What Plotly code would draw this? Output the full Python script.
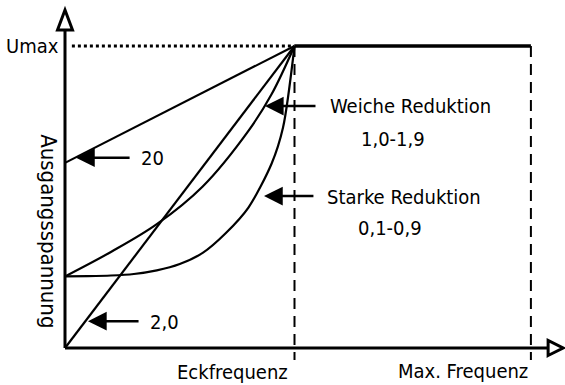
import plotly.graph_objects as go

# ---------------- data (normalised: Eckfrequenz = 1, Umax = 1) ----------------
CORNER_FREQ = 1.0
MAX_FREQ = 2.03
UMAX = 1.0

line20_x = [0.0, 1.0]
line20_y = [0.613, 1.0]

line2_x = [0.0, 1.0]
line2_y = [0.0, 1.0]

weiche_x = [0.0, 0.2, 0.4, 0.6, 0.8, 0.9, 1.0]
weiche_y = [0.237, 0.318, 0.41, 0.535, 0.72, 0.84, 1.0]

starke_x = [0.0, 0.1, 0.2, 0.3, 0.4, 0.5, 0.6, 0.7, 0.8, 0.9, 0.95, 1.0]
starke_y = [0.237, 0.238, 0.240, 0.245, 0.257, 0.278, 0.315, 0.38, 0.466, 0.61, 0.73, 1.0]

flat_x = [CORNER_FREQ, MAX_FREQ]
flat_y = [UMAX, UMAX]

x_axis_labels = ["Eckfrequenz", "Max. Frequenz"]
y_axis_label = "Ausgangsspannung"
umax_label = "Umax"
curve_labels = ["20", "2,0", "Weiche Reduktion", "1,0-1,9", "Starke Reduktion", "0,1-0,9"]

# ---------------- layout helpers ----------------
W, H = 565, 385
X_RANGE = [-0.2832, 2.1786]
Y_RANGE = [-0.1225, 1.1523]
px_x = (X_RANGE[1] - X_RANGE[0]) / W   # data units per pixel
px_y = (Y_RANGE[1] - Y_RANGE[0]) / H

X_AXIS_END = 2.105
Y_AXIS_END = 1.053
FONT = "Liberation Sans Narrow, Arial Narrow, DejaVu Sans Condensed, sans-serif"

fig = go.Figure()

def add_line(x, y, width=2.2, shape="linear", dash="solid", smoothing=1.0):
    fig.add_trace(go.Scatter(x=x, y=y, mode="lines",
                             line=dict(color="black", width=width, shape=shape,
                                       smoothing=smoothing, dash=dash),
                             hoverinfo="skip", showlegend=False))

add_line(line20_x, line20_y)
add_line(line2_x, line2_y)
add_line(weiche_x, weiche_y, shape="spline")
add_line(starke_x, starke_y, shape="spline", smoothing=0.8)
add_line(flat_x, flat_y, width=3.5)
# dotted Umax guide
add_line([0.03, CORNER_FREQ], [UMAX, UMAX], width=3, dash="3px,3px")
# dashed verticals
add_line([CORNER_FREQ, CORNER_FREQ], [UMAX, -0.04], width=2, dash="11px,7px")
add_line([MAX_FREQ, MAX_FREQ], [UMAX, -0.04], width=2, dash="11px,7px")

shapes = []
# axes
shapes.append(dict(type="line", x0=0, y0=0, x1=X_AXIS_END, y1=0,
                   line=dict(color="black", width=3)))
shapes.append(dict(type="line", x0=0, y0=0, x1=0, y1=Y_AXIS_END,
                   line=dict(color="black", width=3)))
# hollow arrowheads
ah_len, ah_half = 15, 7.5
shapes.append(dict(type="path",
                   path=f"M {X_AXIS_END},{-ah_half*px_y} L {X_AXIS_END + ah_len*px_x},0 "
                        f"L {X_AXIS_END},{ah_half*px_y} Z",
                   line=dict(color="black", width=3), fillcolor="white"))
shapes.append(dict(type="path",
                   path=f"M {-ah_half*px_x},{Y_AXIS_END} L 0,{Y_AXIS_END + 20*px_y} "
                        f"L {ah_half*px_x},{Y_AXIS_END} Z",
                   line=dict(color="black", width=3), fillcolor="white"))

ann = []
def text(t, x, y, xanchor="left", size=20, angle=0, xshift=0):
    ann.append(dict(text=t, x=x, y=y, xref="x", yref="y", showarrow=False,
                    xanchor=xanchor, yanchor="middle", textangle=angle, xshift=xshift,
                    font=dict(family=FONT, size=size, color="black")))

def arrow(xtip, ytip, xtail):
    ann.append(dict(text="", x=xtip, y=ytip, ax=xtail, ay=ytip, xref="x", yref="y",
                    axref="x", ayref="y", showarrow=True, arrowhead=2,
                    arrowsize=1.5, arrowwidth=2.5, arrowcolor="black"))

text(umax_label, 0, UMAX, xanchor="right", size=20, xshift=-4)
text(y_axis_label, -0.07, 0.387, xanchor="center", size=22, angle=90)

arrow(0.048, 0.630, 0.288)
text(curve_labels[0], 0.322, 0.630)
arrow(0.100, 0.089, 0.327)
text(curve_labels[1], 0.362, 0.086)

arrow(0.871, 0.801, 1.098)
text(curve_labels[2], 1.146, 0.800)
text(curve_labels[3], 1.429, 0.692, xanchor="center")
arrow(0.867, 0.503, 1.089)
text(curve_labels[4], 1.133, 0.500)
text(curve_labels[5], 1.416, 0.397, xanchor="center")

text(x_axis_labels[0], 0.98, -0.079, xanchor="right")
text(x_axis_labels[1], 2.026, -0.076, xanchor="right")

fig.update_layout(
    width=W, height=H, margin=dict(l=0, r=0, t=0, b=0),
    paper_bgcolor="white", plot_bgcolor="white",
    xaxis=dict(range=X_RANGE, visible=False, fixedrange=True),
    yaxis=dict(range=Y_RANGE, visible=False, fixedrange=True),
    shapes=shapes, annotations=ann, showlegend=False,
)

fig.write_html("out.html", config={"displayModeBar": False},
               post_script="document.body.style.margin='0';document.body.style.overflow='hidden';")
